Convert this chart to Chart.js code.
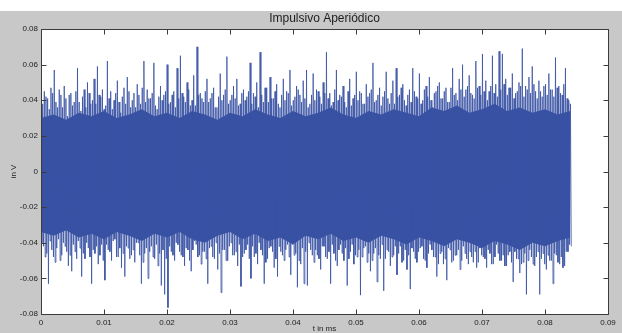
<!DOCTYPE html>
<html>
<head>
<meta charset="utf-8">
<script src="https://cdn.jsdelivr.net/npm/chart.js@4/dist/chart.umd.min.js"></script>
<style>
html, body { margin: 0; padding: 0; background: #fff; }
#wrap { width: 622px; height: 333px; position: relative; }
</style>
</head>
<body>
<div id="wrap"><canvas id="myChart"></canvas></div>
<script>
// chart texts
var titleText = "Impulsivo Aperiódico";
var xLabel = "t in ms";
var yLabel = "in V";

// time span of the record and axis ticks
var timeStart = 0;
var timeEnd = 0.0843;
var xTicks = [0, 0.01, 0.02, 0.03, 0.04, 0.05, 0.06, 0.07, 0.08, 0.09];
var yTicks = [-0.08, -0.06, -0.04, -0.02, 0, 0.02, 0.04, 0.06, 0.08];

// tallest positive and negative swings, left to right
var upperPeaks = [
  0.032, 0.045, 0.041, 0.047, 0.057, 0.036, 0.043, 0.048, 0.031, 0.044,
  0.039, 0.058, 0.034, 0.046, 0.050, 0.038, 0.052, 0.059, 0.042, 0.035,
  0.062, 0.045, 0.040, 0.051, 0.033, 0.047, 0.053, 0.036, 0.044, 0.049,
  0.038, 0.062, 0.046, 0.041, 0.061, 0.035, 0.048, 0.043, 0.060, 0.039,
  0.045, 0.058, 0.065, 0.042, 0.050, 0.037, 0.054, 0.070, 0.044, 0.039,
  0.052, 0.041, 0.047, 0.036, 0.055, 0.043, 0.0645, 0.040, 0.048, 0.052,
  0.038, 0.046, 0.042, 0.061, 0.044, 0.050, 0.067, 0.039, 0.047, 0.053,
  0.041, 0.049, 0.036, 0.052, 0.045, 0.057, 0.040, 0.048, 0.043, 0.051,
  0.057, 0.038, 0.055, 0.046, 0.042, 0.050, 0.067, 0.044, 0.039, 0.057,
  0.043, 0.048, 0.036, 0.052, 0.041, 0.056, 0.045, 0.038, 0.049, 0.044,
  0.061, 0.040, 0.047, 0.042, 0.056, 0.038, 0.051, 0.058, 0.043, 0.049,
  0.037, 0.046, 0.058, 0.042, 0.055, 0.040, 0.048, 0.053, 0.036, 0.045,
  0.050, 0.041, 0.047, 0.039, 0.058, 0.044, 0.052, 0.060, 0.046, 0.054,
  0.043, 0.062, 0.048, 0.066, 0.051, 0.045, 0.065, 0.049, 0.0675, 0.066,
  0.052, 0.047, 0.055, 0.044, 0.050, 0.069, 0.048, 0.053, 0.059, 0.045,
  0.051, 0.042, 0.049, 0.055, 0.046, 0.064, 0.048, 0.043, 0.058, 0.040
];
var lowerPeaks = [
  -0.040, -0.048, -0.063, -0.044, -0.051, -0.038, -0.047, -0.042, -0.053, -0.056,
  -0.045, -0.039, -0.059, -0.049, -0.043, -0.063, -0.046, -0.052, -0.041, -0.061,
  -0.044, -0.050, -0.038, -0.048, -0.054, -0.059, -0.043, -0.047, -0.051, -0.040,
  -0.063, -0.046, -0.060, -0.042, -0.049, -0.053, -0.064, -0.069, -0.0764, -0.045,
  -0.050, -0.041, -0.047, -0.053, -0.044, -0.056, -0.039, -0.048, -0.052, -0.045,
  -0.063, -0.042, -0.049, -0.055, -0.068, -0.044, -0.050, -0.040, -0.047, -0.053,
  -0.0645, -0.046, -0.041, -0.060, -0.048, -0.052, -0.044, -0.063, -0.049, -0.042,
  -0.054, -0.059, -0.045, -0.050, -0.041, -0.058, -0.047, -0.065, -0.052, -0.063,
  -0.064, -0.044, -0.051, -0.047, -0.055, -0.042, -0.049, -0.063, -0.046, -0.053,
  -0.041, -0.050, -0.064, -0.045, -0.052, -0.048, -0.0694, -0.043, -0.051, -0.056,
  -0.046, -0.062, -0.049, -0.067, -0.044, -0.053, -0.047, -0.058, -0.042, -0.050,
  -0.055, -0.066, -0.045, -0.051, -0.043, -0.049, -0.054, -0.041, -0.048, -0.059,
  -0.046, -0.052, -0.061, -0.044, -0.050, -0.047, -0.055, -0.042, -0.049, -0.045,
  -0.051, -0.054, -0.043, -0.048, -0.054, -0.046, -0.052, -0.041, -0.050, -0.047,
  -0.053, -0.045, -0.062, -0.049, -0.057, -0.051, -0.069, -0.044, -0.052, -0.048,
  -0.069, -0.046, -0.055, -0.050, -0.063, -0.047, -0.052, -0.054, -0.045, -0.041
];

// the denser, shorter swings in between
var midUpper = [
  0.038, 0.042, 0.035, 0.044, 0.039, 0.046, 0.036, 0.041, 0.043, 0.037,
  0.045, 0.039, 0.042, 0.036, 0.044, 0.040, 0.038, 0.043, 0.046, 0.037,
  0.041, 0.035, 0.044, 0.039, 0.042, 0.038, 0.045, 0.040, 0.036, 0.043,
  0.047, 0.039, 0.041, 0.044, 0.037, 0.042, 0.040, 0.045, 0.038, 0.043,
  0.036, 0.041, 0.044, 0.039, 0.046, 0.040, 0.037, 0.043, 0.041, 0.045,
  0.039, 0.044, 0.036, 0.042, 0.040, 0.046, 0.038, 0.043, 0.041, 0.037,
  0.044, 0.040, 0.045, 0.038, 0.042, 0.036, 0.043, 0.047, 0.039, 0.041,
  0.045, 0.038, 0.043, 0.040, 0.044, 0.037, 0.042, 0.046, 0.039, 0.041,
  0.036, 0.043, 0.040, 0.045, 0.038, 0.044, 0.041, 0.037, 0.046, 0.040,
  0.042, 0.039, 0.045, 0.037, 0.043, 0.040, 0.044, 0.038, 0.042, 0.046,
  0.039, 0.043, 0.037, 0.045, 0.041, 0.044, 0.038, 0.042, 0.047, 0.040,
  0.043, 0.039, 0.045, 0.041, 0.038, 0.046, 0.042, 0.040, 0.044, 0.048,
  0.041, 0.045, 0.039, 0.047, 0.043, 0.040, 0.046, 0.042, 0.048, 0.044,
  0.041, 0.047, 0.043, 0.045, 0.040, 0.048, 0.044, 0.042, 0.046, 0.049,
  0.043, 0.047, 0.041, 0.045, 0.048, 0.042, 0.046, 0.044, 0.049, 0.041,
  0.045, 0.048, 0.043, 0.046, 0.042, 0.047, 0.044, 0.049, 0.041, 0.038
];
var midLower = [
  -0.042, -0.046, -0.039, -0.048, -0.043, -0.050, -0.040, -0.045, -0.047, -0.041,
  -0.049, -0.043, -0.046, -0.040, -0.048, -0.044, -0.042, -0.047, -0.050, -0.041,
  -0.045, -0.039, -0.048, -0.043, -0.046, -0.042, -0.049, -0.044, -0.040, -0.047,
  -0.051, -0.043, -0.045, -0.048, -0.041, -0.046, -0.044, -0.049, -0.042, -0.047,
  -0.040, -0.045, -0.048, -0.043, -0.050, -0.044, -0.041, -0.047, -0.045, -0.049,
  -0.043, -0.048, -0.040, -0.046, -0.044, -0.050, -0.042, -0.047, -0.045, -0.041,
  -0.048, -0.044, -0.049, -0.042, -0.046, -0.040, -0.047, -0.051, -0.043, -0.045,
  -0.049, -0.042, -0.047, -0.044, -0.048, -0.041, -0.046, -0.050, -0.043, -0.045,
  -0.040, -0.047, -0.044, -0.049, -0.042, -0.048, -0.045, -0.041, -0.050, -0.044,
  -0.046, -0.043, -0.049, -0.041, -0.047, -0.044, -0.048, -0.042, -0.046, -0.050,
  -0.043, -0.047, -0.041, -0.049, -0.045, -0.048, -0.042, -0.046, -0.051, -0.044,
  -0.047, -0.043, -0.049, -0.045, -0.042, -0.050, -0.046, -0.044, -0.048, -0.052,
  -0.045, -0.049, -0.043, -0.051, -0.047, -0.044, -0.050, -0.046, -0.052, -0.048,
  -0.045, -0.051, -0.047, -0.049, -0.044, -0.052, -0.048, -0.046, -0.050, -0.053,
  -0.047, -0.051, -0.045, -0.049, -0.052, -0.046, -0.050, -0.048, -0.053, -0.045,
  -0.049, -0.052, -0.047, -0.050, -0.046, -0.051, -0.048, -0.053, -0.045, -0.042
];

// edges of the solid (overplotted) core of the band, one every 0.002 ms
var coreStep = 0.002;
var coreUpper = [
  0.030, 0.032, 0.029, 0.033, 0.031, 0.034, 0.030, 0.032, 0.035, 0.031,
  0.033, 0.030, 0.034, 0.032, 0.029, 0.033, 0.031, 0.035, 0.032, 0.030,
  0.034, 0.031, 0.033, 0.036, 0.032, 0.030, 0.034, 0.032, 0.035, 0.033,
  0.031, 0.036, 0.034, 0.037, 0.033, 0.035, 0.038, 0.034, 0.036, 0.033,
  0.035, 0.032, 0.034
];
var coreLower = [
  -0.034, -0.036, -0.033, -0.037, -0.035, -0.038, -0.034, -0.036, -0.039, -0.035,
  -0.037, -0.034, -0.038, -0.040, -0.036, -0.034, -0.038, -0.035, -0.039, -0.037,
  -0.041, -0.036, -0.038, -0.035, -0.039, -0.037, -0.040, -0.036, -0.038, -0.041,
  -0.037, -0.039, -0.042, -0.038, -0.040, -0.043, -0.039, -0.041, -0.044, -0.040,
  -0.042, -0.039, -0.037
];

var lineColor = "#3852a3";

// two up-down swings per sample step: tall pair, then short pair
var points = [];
var n = upperPeaks.length;
var step = (timeEnd - timeStart) / n;
for (var i = 0; i < n; i++) {
  var t0 = timeStart + i * step;
  points.push({ x: t0, y: upperPeaks[i] });
  points.push({ x: t0 + step * 0.25, y: lowerPeaks[i] });
  points.push({ x: t0 + step * 0.5, y: midUpper[i] });
  points.push({ x: t0 + step * 0.75, y: midLower[i] });
}
var coreTop = coreUpper.map(function (v, k) { return { x: Math.min(timeStart + k * coreStep, timeEnd), y: v }; });
var coreBottom = coreLower.map(function (v, k) { return { x: Math.min(timeStart + k * coreStep, timeEnd), y: v }; });

var tickFont = { family: "Liberation Sans", size: 8 };
var fmt = function (v) { return String(+(+v).toFixed(2)); };

// gray figure, white axes box, matlab style frame with inward ticks
var framePlugin = {
  id: "frame",
  beforeDraw: function (chart) {
    var ctx = chart.ctx, a = chart.chartArea;
    ctx.save();
    ctx.fillStyle = "#ffffff";
    ctx.fillRect(0, 0, chart.width, chart.height);
    ctx.fillStyle = "#c8c8c8";
    ctx.fillRect(0, 11, chart.width, chart.height - 11);
    ctx.fillStyle = "#ffffff";
    ctx.fillRect(a.left, a.top, a.right - a.left, a.bottom - a.top);
    ctx.restore();
  },
  afterDraw: function (chart) {
    var ctx = chart.ctx, a = chart.chartArea;
    var xs = chart.scales.x, ys = chart.scales.y;
    var L = Math.round(a.left) + 0.5, R = Math.round(a.right) + 0.5;
    var T = Math.round(a.top) + 0.5, B = Math.round(a.bottom) + 0.5;
    ctx.save();
    ctx.strokeStyle = "#3c3c3c";
    ctx.lineWidth = 1;
    ctx.strokeRect(L, T, R - L, B - T);
    ctx.beginPath();
    xTicks.forEach(function (v) {
      var px = Math.round(xs.getPixelForValue(v)) + 0.5;
      ctx.moveTo(px, B); ctx.lineTo(px, B - 5);
      ctx.moveTo(px, T); ctx.lineTo(px, T + 5);
    });
    yTicks.forEach(function (v) {
      var py = Math.round(ys.getPixelForValue(v)) + 0.5;
      ctx.moveTo(L, py); ctx.lineTo(L + 5, py);
      ctx.moveTo(R, py); ctx.lineTo(R - 5, py);
    });
    ctx.stroke();
    ctx.restore();
  }
};

new Chart("myChart", {
  type: "line",
  data: {
    datasets: [{
      data: points,
      borderColor: lineColor,
      borderWidth: 0.8,
      pointRadius: 0,
      tension: 0,
      fill: false
    }, {
      data: coreTop,
      borderColor: lineColor,
      borderWidth: 0,
      backgroundColor: lineColor,
      pointRadius: 0,
      tension: 0,
      fill: "+1"
    }, {
      data: coreBottom,
      borderColor: lineColor,
      borderWidth: 0,
      pointRadius: 0,
      tension: 0,
      fill: false
    }]
  },
  options: {
    responsive: true,
    maintainAspectRatio: false,
    animation: false,
    devicePixelRatio: 1,
    layout: { padding: { left: 0, right: 14, top: 0, bottom: 0 } },
    plugins: {
      legend: { display: false },
      tooltip: { enabled: false },
      title: {
        display: true,
        text: titleText,
        fullSize: false,
        color: "#1e1e1e",
        font: { family: "Liberation Sans", size: 12, weight: "normal", lineHeight: 1.2 },
        padding: { top: 11, bottom: 3.6 }
      }
    },
    scales: {
      x: {
        type: "linear",
        min: 0,
        max: 0.09,
        afterBuildTicks: function (s) { s.ticks = xTicks.map(function (v) { return { value: v }; }); },
        afterFit: function (s) { s.height = 19; },
        grid: { display: false, drawTicks: false },
        border: { display: false },
        ticks: { padding: 4, font: tickFont, color: "#222", maxRotation: 0, autoSkip: false, callback: fmt },
        title: { display: true, text: xLabel, color: "#222", font: { family: "Liberation Sans", size: 8, lineHeight: 1 }, padding: { top: 0, bottom: 0 } }
      },
      y: {
        type: "linear",
        min: -0.08,
        max: 0.08,
        afterBuildTicks: function (s) { s.ticks = yTicks.map(function (v) { return { value: v }; }); },
        afterFit: function (s) { s.width = 41; },
        grid: { display: false, drawTicks: false },
        border: { display: false },
        ticks: { padding: 3, font: tickFont, color: "#222", autoSkip: false, callback: fmt },
        title: { display: true, text: yLabel, color: "#222", font: { family: "Liberation Sans", size: 8, lineHeight: 1 }, padding: { top: 10, bottom: 0 } }
      }
    }
  },
  plugins: [framePlugin]
});
</script>
</body>
</html>
